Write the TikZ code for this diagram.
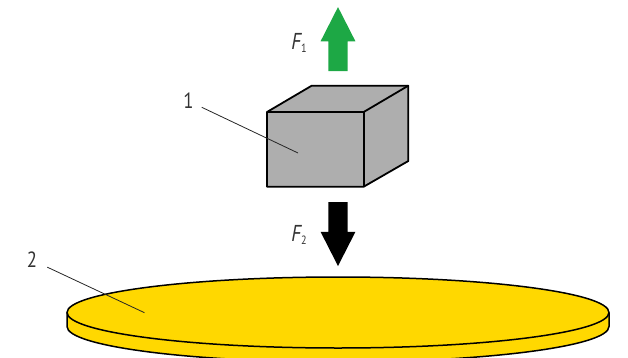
\documentclass[tikz,border=0pt]{standalone}
\usepackage{fontspec}
\setmainfont{PT Sans}[FakeStretch=0.85]
\usepackage{xcolor}
\usetikzlibrary{arrows.meta, positioning, shapes.arrows}
\definecolor{blockgray}{RGB}{174,174,174}
\definecolor{discyellow}{RGB}{255,216,0}
\definecolor{forcegreen}{RGB}{29,168,69}
\newcommand{\forcesub}[1]{\raisebox{-3.5pt}{\fontsize{12}{14}\selectfont\upshape #1}}

\begin{document}
\begin{tikzpicture}[
  x=1pt, y=-1pt,
  force/.style={single arrow, minimum width=34.5pt, minimum height=64pt,
              single arrow head extend=7.75pt, single arrow tip angle=54, inner sep=0pt,
              outer sep=0pt, text height=9.5pt, text depth=9.5pt},
  edge/.style={draw=black, line width=1.8pt, line join=round},
  rim/.style={draw=black, line width=1.5pt, fill=discyellow},
  leader/.style={draw=black!85, line width=0.8pt},
  num/.style={font=\fontsize{22}{24}\selectfont, text=black!80, inner sep=3pt, minimum width=26pt},
  sym/.style={font=\fontsize{23}{24}\selectfont\itshape, text=black!80, inner sep=0pt}
]
\clip (0,0) rectangle (628,358);

% disc
\draw[rim] (67,312.5) -- (67,326.5) arc[start angle=180, end angle=0, x radius=271, y radius=35.5]
  -- (609,312.5);
\draw[rim] (338,312.5) ellipse[x radius=271, y radius=35.5];

% block
\draw[edge, fill=blockgray] (267,112) -- (311.7,85.7) -- (408.3,85.7) -- (408.3,161) -- (363.7,186.7)
  -- (267,186.7) -- cycle;
\draw[edge] (267,112) -- (363.7,112) -- (363.7,186.7);
\draw[edge] (363.7,112) -- (408.3,85.7);

% forces
\node[force, fill=forcegreen, rotate=90] (f1) at (338,48.6) {};
\node[force, fill=black, rotate=-90] (f2) at (338,224.5) {};
\node[sym] (f1label) at (299,43) {F\forcesub{1}};
\node[sym] (f2label) at (299,235) {F\forcesub{2}};

% numbers
\node[num] (num1) at (188.5,101) {1};
\node[num, minimum width=30pt] (num2) at (32,260) {2};
\coordinate (blockpt) at (298,153);
\coordinate (discpt) at (144.5,312.7);
\draw[leader] (num1) -- (blockpt);
\draw[leader] (num2) -- (discpt);
\end{tikzpicture}
\end{document}
